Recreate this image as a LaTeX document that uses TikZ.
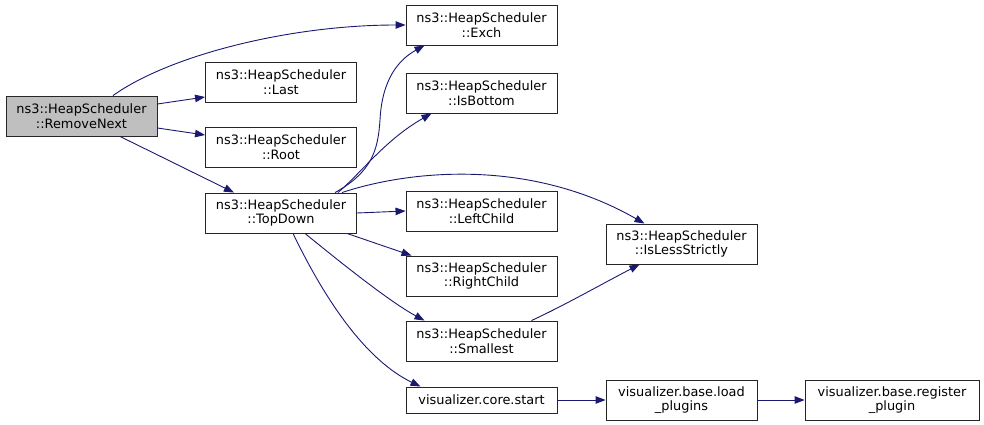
\documentclass[tikz,border=0pt]{standalone}
\usepackage{fontspec}
\setmainfont{DejaVu Sans}
\usetikzlibrary{arrows.meta}
\definecolor{edgecol}{HTML}{191970}
\definecolor{boxgray}{HTML}{BFBFBF}
\begin{document}
\begin{tikzpicture}[x=1pt,y=-1pt,
  fn/.style={draw=black!85, line width=0.9pt, fill=white, minimum width=151pt, minimum height=40pt,
    inner sep=0pt, align=center, font=\fontsize{12.9}{14.6}\selectfont},
  cur/.style={fn, fill=boxgray},
  call/.style={draw=edgecol, line width=0.9pt, -{Triangle[length=10pt,width=7.5pt]}}]
\useasboundingbox (0,0) rectangle (984,425);
\node[cur] (rn) at (81.5,116) {ns3::HeapScheduler\\::RemoveNext};
\node[fn] (ex) at (481.5,25) {ns3::HeapScheduler\\::Exch};
\node[fn] (la) at (281,82) {ns3::HeapScheduler\\::Last};
\node[fn] (ib) at (481.5,93) {ns3::HeapScheduler\\::IsBottom};
\node[fn] (ro) at (281,147) {ns3::HeapScheduler\\::Root};
\node[fn] (td) at (281,213) {ns3::HeapScheduler\\::TopDown};
\node[fn] (lc) at (481.5,211) {ns3::HeapScheduler\\::LeftChild};
\node[fn] (il) at (681.5,244) {ns3::HeapScheduler\\::IsLessStrictly};
\node[fn] (rc) at (481.5,276) {ns3::HeapScheduler\\::RightChild};
\node[fn] (sm) at (481.5,341) {ns3::HeapScheduler\\::Smallest};
\node[fn, minimum height=26pt] (cs) at (481.5,400) {visualizer.core.start};
\node[fn] (lp) at (681.5,400) {visualizer.base.load\\\_plugins};
\node[fn, minimum width=174pt] (rp) at (892,400) {visualizer.base.register\\\_plugin};

\draw[call] ([xshift=31.5pt]rn.north) .. controls (170,55) and (290,25) .. (ex.west);
\draw[call] ([yshift=12pt]rn.east) -- ([yshift=-15pt]la.west);
\draw[call] ([yshift=-12pt]rn.east) -- ([yshift=12pt]ro.west);
\draw[call] ([xshift=38.5pt]rn.south) -- ([xshift=-47pt]td.north);

\draw[call] ([xshift=54pt]td.north) .. controls (372,172) and (378,150) .. (380,120)
   .. controls (382,80) and (398,60) .. ([xshift=-57pt]ex.south);
\draw[call] ([xshift=57pt]td.north) .. controls (362,172) and (385,140) .. ([xshift=-50pt]ib.south);
\draw[call] ([xshift=61pt]td.north) .. controls (410,170) and (530,158) .. ([xshift=-37pt]il.north);
\draw[call] (td.east) -- (lc.west);
\draw[call] ([xshift=66pt]td.south) -- ([xshift=-70pt]rc.north);
\draw[call] ([xshift=24pt]td.south) .. controls (340,262) and (390,302) .. ([xshift=-57pt]sm.north);
\draw[call] ([xshift=12pt]td.south) .. controls (330,310) and (370,362) .. ([xshift=-61pt]cs.north);
\draw[call] ([xshift=50pt]sm.north) .. controls (565,305) and (600,285) .. ([xshift=-42pt]il.south);
\draw[call] (cs.east) -- (lp.west);
\draw[call] (lp.east) -- (rp.west);
\end{tikzpicture}
\end{document}
